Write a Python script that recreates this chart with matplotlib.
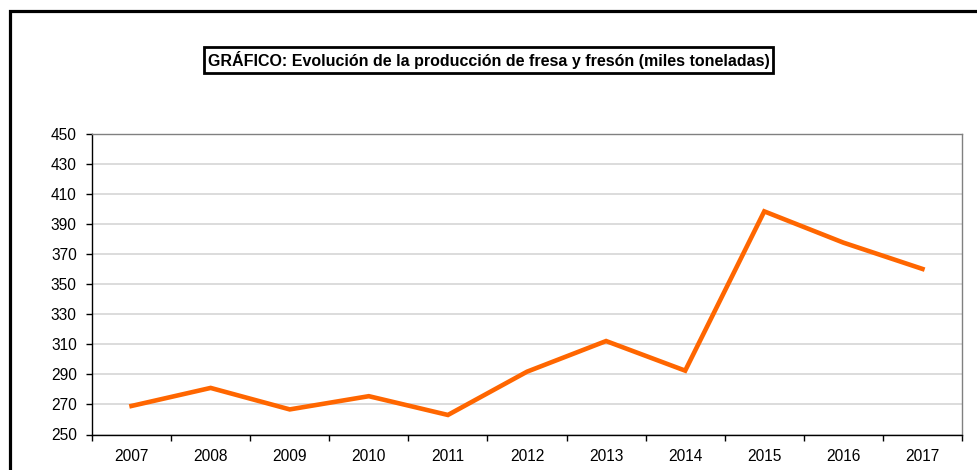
import numpy as np
import matplotlib.pyplot as plt
from matplotlib.patches import Rectangle

plt.rcParams['font.family'] = ['Liberation Sans', 'DejaVu Sans']

years = ['2007', '2008', '2009', '2010', '2011', '2012', '2013', '2014', '2015', '2016', '2017']
produccion = [269, 281, 266.7, 275.5, 263, 291.8, 312.2, 292.5, 398.5, 377.7, 360.2]
yticks = list(range(250, 451, 20))

fig = plt.figure(figsize=(9.78, 4.7), dpi=100)
W, H = 978.0, 470.0

# outer frame (cut off at right and bottom like the source)
fig.patches.append(Rectangle((10 / W, -0.2), 1.2, 1.2 - 11 / H,
                             transform=fig.transFigure, fill=False,
                             edgecolor='black', linewidth=2.3, clip_on=False))

ax = fig.add_axes([92 / W, (H - 434.5) / H, 870 / W, 300.5 / H])
x = np.arange(len(years))
ax.plot(x, produccion, color='#ff6600', linewidth=3.3, solid_joinstyle='miter', zorder=3)

ax.set_xlim(-0.5, len(years) - 0.5)
ax.set_ylim(250, 450)
ax.set_yticks(yticks)
ax.set_xticks(x)
ax.set_xticklabels(years)
ax.set_xticks(np.arange(-0.5, len(years)), minor=True)
ax.tick_params(axis='x', which='major', length=0, pad=10.5, labelsize=11.2)
ax.tick_params(axis='x', which='minor', length=4, width=1, color='black', direction='out')
ax.tick_params(axis='y', length=4, width=1, pad=7, labelsize=11.2, direction='out')

ax.grid(axis='y', color='#d9d9d9', linewidth=1.3, zorder=0)
ax.set_axisbelow(True)
for s in ['top', 'right']:
    ax.spines[s].set_color('#808080')
    ax.spines[s].set_linewidth(1)
for s in ['left', 'bottom']:
    ax.spines[s].set_color('black')
    ax.spines[s].set_linewidth(1)

fig.text(488.5 / W, (H - 60) / H,
         'GRÁFICO: Evolución de la producción de fresa y fresón (miles toneladas)',
         ha='center', va='center', fontsize=11.5, fontweight='bold',
         bbox=dict(boxstyle='square,pad=0.22', facecolor='white', edgecolor='black', linewidth=2))

fig.savefig('out.png', dpi=100)
